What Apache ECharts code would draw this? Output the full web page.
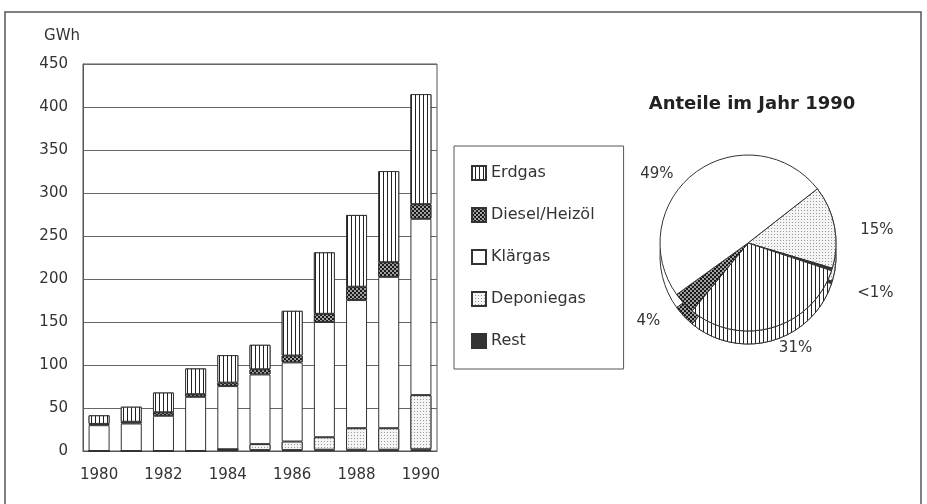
<!DOCTYPE html>
<html>
<head>
<meta charset="utf-8">
<script src="https://cdn.jsdelivr.net/npm/echarts@6/dist/echarts.min.js"></script>
<style>html,body{margin:0;padding:0;background:#fff}#c{width:927px;height:504px}</style>
</head>
<body>
<div id="c"></div>
<script>
var years = ['1980','1981','1982','1983','1984','1985','1986','1987','1988','1989','1990'];
var yTicks = [0,50,100,150,200,250,300,350,400,450];
var rest       = [0, 0, 0, 0, 2, 1, 1, 1.5, 1.5, 1.5, 2];
var deponiegas = [0, 0, 0, 0, 0, 7, 10, 14.5, 25, 25, 63];
var klaergas   = [30, 32, 41, 63, 73.5, 81, 92, 134, 149, 176, 205];
var diesel     = [1.5, 2, 4, 3, 4, 6, 8, 9.5, 15.5, 17, 17];
var erdgas     = [10, 17.5, 23, 30, 32, 28.5, 52, 71.5, 83.5, 106, 128];
var legendNames = ['Erdgas','Diesel/Heizöl','Klärgas','Deponiegas','Rest'];
var pieTitle = 'Anteile im Jahr 1990';

var FONT = 'DejaVu Sans';
var INK = '#333';

var styles = {
  'Erdgas': { color: '#fff', borderColor: INK, borderWidth: 1,
    decal: { symbol: 'rect', color: '#222', backgroundColor: '#fff', dashArrayX: [1, 0], dashArrayY: [1, 3], rotation: Math.PI / 2, symbolSize: 1 } },
  'Diesel/Heizöl': { color: '#333', borderColor: INK, borderWidth: 1,
    decal: { symbol: 'rect', color: '#1a1a1a', backgroundColor: '#a0a0a0', dashArrayX: [[1.5, 1.5], [0, 1.5, 1.5, 0]], dashArrayY: [1.5, 0], symbolSize: 1 } },
  'Klärgas': { color: '#fff', borderColor: INK, borderWidth: 1 },
  'Deponiegas': { color: '#fff', borderColor: INK, borderWidth: 1,
    decal: { symbol: 'rect', color: '#999', backgroundColor: '#f4f4f4', dashArrayX: [1, 2], dashArrayY: [1, 2], symbolSize: 1 } },
  'Rest': { color: '#333', borderColor: INK, borderWidth: 1 }
};

var stackOrder = [['Rest', rest], ['Deponiegas', deponiegas], ['Klärgas', klaergas], ['Diesel/Heizöl', diesel], ['Erdgas', erdgas]];
var series = stackOrder.map(function (s) {
  return { name: s[0], type: 'bar', stack: 'total', barWidth: 21, data: s[1], itemStyle: styles[s[0]], emphasis: { disabled: true } };
});

var last = years.length - 1;
var pieOrder = [['Deponiegas', deponiegas], ['Rest', rest], ['Erdgas', erdgas], ['Diesel/Heizöl', diesel], ['Klärgas', klaergas]];
var pieData = pieOrder.map(function (p) { return { name: p[0], value: p[1][last], itemStyle: styles[p[0]] }; });

var pieBase = { type: 'pie', radius: 88, startAngle: 38, clockwise: true, silent: true, animation: false, emphasis: { disabled: true } };
series.push(Object.assign({}, pieBase, { name: 'depth', center: [748, 256], data: pieData, label: { show: false }, labelLine: { show: false }, z: 1 }));
series.push(Object.assign({}, pieBase, { name: 'share', center: [748, 243], data: pieData, z: 2,
  label: { show: true, position: 'outside', fontFamily: FONT, fontSize: 15, color: INK,
    formatter: function (p) { return p.percent < 1 ? '<1%' : Math.round(p.percent) + '%'; } },
  labelLine: { show: false, length: 16, length2: 6 },
  labelLayout: function (p) {
    var i = p.dataIndex;
    var dy = [6, 19, 5, 7, 14][i];
    var dx = [-1, -1, -9, -1, -1][i];
    return { dx: dx, dy: dy };
  } }));

var chart = echarts.init(document.getElementById('c'), null, { renderer: 'canvas' });
chart.setOption({
  animation: false,
  backgroundColor: '#fff',
  title: { text: pieTitle, left: 747, top: 90, textAlign: 'center',
    textStyle: { fontFamily: FONT, fontSize: 18, fontWeight: 'bold', color: '#222' } },
  legend: { data: legendNames, orient: 'vertical', left: 454, top: 146, icon: 'rect',
    padding: [19, 29, 20, 17], itemWidth: 14, itemHeight: 14, itemGap: 26,
    borderColor: '#555', borderWidth: 1, selectedMode: false,
    textStyle: { fontFamily: FONT, fontSize: 16, color: INK } },
  grid: { left: 83, right: 490, top: 64, bottom: 53, show: true, borderColor: '#555', borderWidth: 1, backgroundColor: 'transparent' },
  xAxis: { type: 'category', data: years,
    axisLine: { lineStyle: { color: '#555' } }, axisTick: { show: false },
    axisLabel: { interval: 1, margin: 17, fontFamily: FONT, fontSize: 15, color: INK } },
  yAxis: { type: 'value', min: yTicks[0], max: yTicks[yTicks.length - 1], interval: 50,
    name: 'GWh', nameLocation: 'end', nameGap: 20,
    nameTextStyle: { fontFamily: FONT, fontSize: 15, color: INK, align: 'right', padding: [0, 3, 0, 0] },
    axisLine: { show: true, lineStyle: { color: '#555' } }, axisTick: { show: false },
    splitLine: { lineStyle: { color: '#666', width: 1 } },
    axisLabel: { margin: 15, fontFamily: FONT, fontSize: 15, color: INK } },
  graphic: [{ type: 'rect', shape: { x: 5, y: 12, width: 916, height: 500 }, style: { fill: null, stroke: '#555', lineWidth: 1.5 }, silent: true }],
  series: series
});
</script>
</body>
</html>
